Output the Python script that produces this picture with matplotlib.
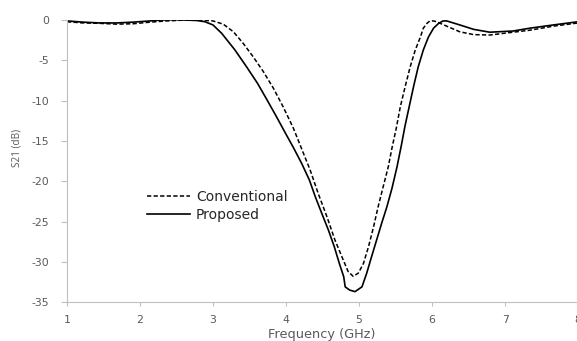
import matplotlib.pyplot as plt

# S21 readings (frequency in GHz, S21 in dB)
f_conv = [1.0, 1.22, 1.45, 1.68, 1.91, 2.14, 2.37, 2.6, 2.83, 3.0, 3.14, 3.28, 3.415, 3.55,
          3.69, 3.83, 3.96, 4.10, 4.215, 4.33, 4.44, 4.56, 4.67, 4.785, 4.85, 4.92, 4.99,
          5.06, 5.13, 5.20, 5.26, 5.33, 5.40, 5.45, 5.51, 5.565, 5.63, 5.70, 5.77, 5.84,
          5.88, 5.93, 5.97, 6.02, 6.06, 6.20, 6.38, 6.57, 6.79, 7.11, 7.34, 7.66, 8.0]
s_conv = [-0.2, -0.35, -0.4, -0.5, -0.45, -0.25, -0.1, 0.0, 0.0, -0.1, -0.5, -1.45, -2.9, -4.55,
          -6.4, -8.5, -10.75, -13.4, -16.0, -18.6, -21.5, -24.4, -27.3, -29.8, -31.2, -31.8, -31.4,
          -30.2, -28.1, -25.6, -23.2, -20.7, -18.2, -15.9, -13.4, -10.75, -8.3, -5.8, -3.7, -2.1,
          -1.0, -0.4, -0.1, -0.1, -0.2, -0.75, -1.45, -1.8, -1.85, -1.5, -1.25, -0.75, -0.35]

f_prop = [1.0, 1.22, 1.45, 1.68, 1.91, 2.14, 2.27, 2.46, 2.65, 2.78, 2.89, 3.0, 3.12, 3.30,
          3.46, 3.61, 3.74, 3.87, 3.99, 4.10, 4.215, 4.32, 4.40, 4.49, 4.58, 4.66, 4.73, 4.79,
          4.81, 4.87, 4.945, 5.04, 5.105, 5.17, 5.24, 5.31, 5.38, 5.45, 5.52, 5.58, 5.63, 5.69,
          5.75, 5.81, 5.88, 5.95, 6.02, 6.09, 6.15, 6.20, 6.38, 6.57, 6.79, 7.11, 7.34, 7.66, 8.0]
s_prop = [-0.1, -0.25, -0.35, -0.35, -0.25, -0.1, 0.0, 0.05, 0.0, -0.05, -0.2, -0.6, -1.65, -3.7,
          -5.8, -7.85, -9.9, -12.0, -14.0, -15.8, -17.8, -19.85, -21.9, -24.0, -26.05, -28.1, -30.2, -31.85,
          -33.1, -33.5, -33.7, -33.1, -31.4, -29.4, -27.3, -25.2, -23.2, -20.9, -18.2, -15.5, -13.1, -10.6,
          -8.1, -5.8, -3.7, -2.1, -1.0, -0.4, -0.1, -0.1, -0.6, -1.15, -1.5, -1.35, -1.0, -0.6, -0.2]

xticks = [1, 2, 3, 4, 5, 6, 7, 8]
yticks = [0, -5, -10, -15, -20, -25, -30, -35]

plt.rcParams['font.family'] = 'DejaVu Sans'
plt.rcParams['axes.unicode_minus'] = False
grey = '#595959'
axis_grey = '#bfbfbf'

fig = plt.figure(figsize=(5.77, 3.41), dpi=100)
ax = fig.add_axes([0.116, 0.114, 0.886, 0.827])

ax.plot(f_conv, s_conv, color='black', lw=1.1, ls=(0, (2.8, 1.5)), label='Conventional')
ax.plot(f_prop, s_prop, color='black', lw=1.2, label='Proposed')

ax.set_xlim(1, 8)
ax.set_ylim(-35, 0)
ax.set_xticks(xticks)
ax.set_yticks(yticks)
ax.tick_params(axis='x', colors=axis_grey, labelcolor=grey, labelsize=7.8,
               length=3, width=0.8, pad=6.5)
ax.tick_params(axis='y', colors=axis_grey, labelcolor=grey, labelsize=7.8,
               length=4, width=0.8, pad=9)
for side in ['top', 'right']:
    ax.spines[side].set_visible(False)
for side in ['left', 'bottom']:
    ax.spines[side].set_color(axis_grey)

ax.set_xlabel('Frequency (GHz)', fontsize=9.3, color=grey)
ax.xaxis.set_label_coords(0.499, -0.093)
ax.set_ylabel('S21 (dB)', fontsize=7.2, color=grey, family='Open Sans')
ax.yaxis.set_label_coords(-0.086, 0.546)

leg = ax.legend(loc='upper left', bbox_to_anchor=(0.1566, 0.397), frameon=False,
                fontsize=10, handlelength=3.1, handletextpad=0.43, labelspacing=0.27,
                borderpad=0, borderaxespad=0)
for t in leg.get_texts():
    t.set_color('#262626')

fig.savefig('out.png', dpi=100)
